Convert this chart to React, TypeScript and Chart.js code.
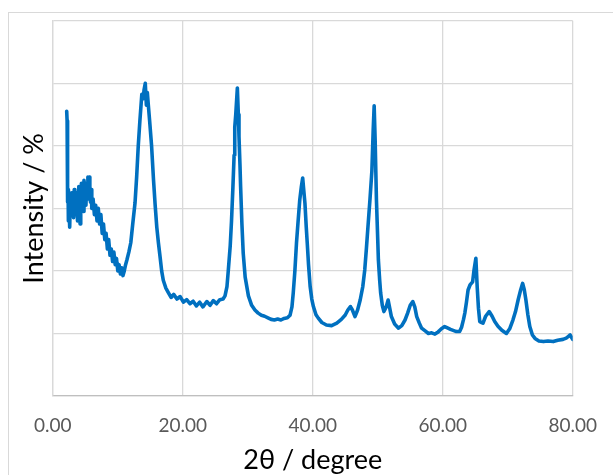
import React, { useEffect, useRef } from "react";
import { Chart, registerables } from "chart.js";

Chart.register(...registerables);

const twoTheta: number[] = [
  2.14, 2.2, 2.25, 2.3, 2.35, 2.4, 2.5, 2.6, 2.7, 2.8, 2.9, 3.0, 3.1, 3.2, 3.3, 3.4, 3.5, 3.6, 3.7, 3.8, 3.9,
  4.0, 4.1, 4.2, 4.3, 4.4, 4.5, 4.6, 4.7, 4.8, 4.9, 5.0, 5.1, 5.2, 5.3, 5.4, 5.5, 5.6, 5.7, 5.8, 5.9,
  6.0, 6.2, 6.4, 6.6, 6.8, 7.0, 7.2, 7.4, 7.6, 7.8, 8.0, 8.2, 8.4, 8.6, 8.8, 9.0, 9.2, 9.4, 9.6, 9.8,
  10.0, 10.2, 10.4, 10.6, 10.8, 11.0, 11.2, 11.4, 11.7, 12.0, 12.3, 12.65, 12.9, 13.15, 13.4, 13.7, 13.9,
  14.05, 14.23, 14.4, 14.55, 14.7, 14.9, 15.2, 15.5, 15.75, 16.0, 16.25, 16.5, 16.75, 17.0, 17.4, 17.8,
  18.2, 18.6, 19.1, 19.6, 20.1, 20.6, 21.1, 21.6, 22.1, 22.6, 23.1, 23.7, 24.2, 24.7, 25.2, 25.7, 26.2,
  26.5, 26.8, 27.0, 27.3, 27.5, 27.7, 27.9, 28.0, 28.15, 28.4, 28.55, 28.65, 28.8, 28.9, 29.1, 29.3,
  29.6, 30.1, 30.6, 31.1, 31.6, 32.1, 32.6, 33.1, 33.6, 34.1, 34.6, 35.1, 35.6, 36.1, 36.5, 36.8, 37.0,
  37.25, 37.5, 37.75, 38.0, 38.25, 38.45, 38.65, 38.8, 39.0, 39.15, 39.35, 39.6, 39.85, 40.1, 40.5,
  40.85, 41.4, 42.1, 42.9, 43.7, 44.4, 45.0, 45.4, 45.8, 46.1, 46.5, 46.9, 47.3, 47.7, 48.0, 48.25,
  48.5, 48.8, 49.1, 49.3, 49.45, 49.6, 49.8, 50.0, 50.1, 50.3, 50.45, 50.7, 50.95, 51.3, 51.6, 51.85,
  52.1, 52.6, 53.2, 53.7, 54.2, 54.6, 55.0, 55.4, 55.7, 56.0, 56.4, 56.75, 57.3, 57.8, 58.3, 58.8,
  59.3, 59.8, 60.3, 60.8, 61.2, 61.6, 62.1, 62.6, 62.9, 63.2, 63.4, 63.65, 63.9, 64.2, 64.4, 64.6,
  64.8, 65.1, 65.3, 65.5, 65.7, 66.0, 66.2, 66.6, 67.15, 67.6, 68.0, 68.5, 69.1, 69.8, 70.3, 70.8,
  71.2, 71.6, 72.0, 72.3, 72.55, 72.8, 73.1, 73.4, 73.8, 74.2, 74.8, 75.5, 76.2, 77.0, 77.7, 78.5,
  79.0, 79.3, 79.6, 80.0,
];

const intensity: number[] = [
  91, 88, 70, 62, 66, 56, 60, 54, 63, 58, 65, 59, 62, 57, 66, 60, 63, 58, 65, 56, 62,
  67, 60, 55, 64, 68, 61, 66, 59, 69, 63, 67, 61, 68, 64, 70, 63, 70, 65, 62, 66,
  60, 63, 58, 61, 56, 60, 55, 58, 52, 55, 50, 52, 47, 50, 45, 47, 43, 46, 42, 44,
  40, 42, 39, 41, 38.5, 40, 42, 43.5, 46, 49, 55, 61.7, 70, 80, 88, 96.5, 95,
  98, 100, 93, 97, 93, 88, 80, 69, 61, 54, 49, 44.6, 40, 37, 34.5, 33,
  31.5, 32.5, 31, 31.8, 30, 30.8, 29.5, 30.3, 28.8, 30, 28.5, 30.2, 29, 30.5, 29.5, 30.8, 31,
  32, 35, 40, 48, 56, 66, 77, 86, 90, 98.5, 90, 83, 74, 67, 55, 45.7,
  38, 32, 29, 27.5, 26.5, 25.8, 25.5, 25, 24.5, 24.3, 24.6, 24.3, 24.8, 25, 25.8, 28.5, 33,
  40, 49, 56, 62.7, 67, 69.7, 65, 61.6, 54, 49, 42, 35, 31, 28.6, 26,
  24.9, 23.5, 22.7, 22.5, 23.3, 24.5, 25.9, 27.5, 28.6, 27.5, 25.4, 27.5, 30.7, 35, 40.3, 47,
  54.2, 62.7, 72, 85, 92.8, 82, 62.7, 50, 43.5, 37, 32.9, 29, 27, 28.5, 30.7, 28,
  25.4, 23, 21.7, 22.5, 24.3, 26.5, 29, 30.2, 28.5, 25.4, 23.3, 21.7, 20.8, 20, 20.2, 19.8,
  20.5, 21.5, 22.2, 21.7, 21.3, 21, 20.6, 20.6, 22, 24.5, 26.5, 30, 33.9, 35.5, 36, 36.5,
  40, 44, 35, 28, 23.8, 23.5, 23.3, 25.5, 27, 25.5, 23.8, 22.3, 21, 20, 21.5, 24.3,
  27, 30.7, 34, 36, 34, 30.7, 26, 22.2, 19.5, 18.4, 17.6, 17.4, 17.6, 17.4, 17.8, 18.1,
  18.5, 19, 19.5, 18.1,
];

const xTicks: number[] = [0, 20, 40, 60, 80];
const xTitle = "2θ / degree";
const yTitle = "Intensity / %";

export default function App() {
  const ref = useRef<HTMLCanvasElement | null>(null);

  useEffect(() => {
    if (!ref.current) return;
    const points = twoTheta.map((x, i) => ({ x, y: intensity[i] }));
    const chart = new Chart(ref.current, {
      type: "line",
      data: {
        datasets: [
          {
            data: points,
            borderColor: "#0070C0",
            borderWidth: 3.6,
            borderJoinStyle: "round",
            borderCapStyle: "round",
            pointRadius: 0,
            tension: 0,
            fill: false,
          },
        ],
      },
      options: {
        animation: false,
        responsive: false,
        layout: { padding: { left: 8.6, top: 7.7, right: 56.3, bottom: 7 } },
        plugins: { legend: { display: false }, tooltip: { enabled: false } },
        scales: {
          x: {
            type: "linear",
            min: xTicks[0],
            max: xTicks[xTicks.length - 1],
            afterBuildTicks: (scale: any) => {
              scale.ticks = xTicks.map((v) => ({ value: v }));
            },
            afterFit: (scale: any) => {
              scale.height = 80;
            },
            ticks: {
              callback: (v: any) => Number(v).toFixed(2),
              color: "#595959",
              font: { family: "Lato", size: 19 },
              padding: 18,
              maxRotation: 0,
            },
            grid: { color: "#d9d9d9", lineWidth: 1.3, drawTicks: false },
            border: { color: "#bfbfbf", width: 1.3 },
            title: {
              display: true,
              text: xTitle,
              color: "#000000",
              font: { family: "Lato", size: 27 },
              padding: 0,
            },
          },
          y: {
            type: "linear",
            min: 0,
            max: 120,
            afterFit: (scale: any) => {
              scale.width = 35.2;
            },
            ticks: { display: false, stepSize: 20 },
            grid: { color: "#d9d9d9", lineWidth: 1.3, drawTicks: false },
            border: { color: "#d9d9d9", width: 1.3 },
            title: {
              display: true,
              text: yTitle,
              color: "#000000",
              font: { family: "Lato", size: 27 },
              padding: 0,
            },
          },
        },
      },
    });
    return () => chart.destroy();
  }, []);

  return (
    <div style={{ position: "fixed", left: 8, top: 12, right: 0, bottom: 0, overflow: "hidden" }}>
      <div style={{ width: 640, height: 500, border: "1px solid #d9d9d9", boxSizing: "border-box" }}>
        <canvas ref={ref} width={620} height={470} style={{ display: "block", width: 620, height: 470 }} />
      </div>
    </div>
  );
}
